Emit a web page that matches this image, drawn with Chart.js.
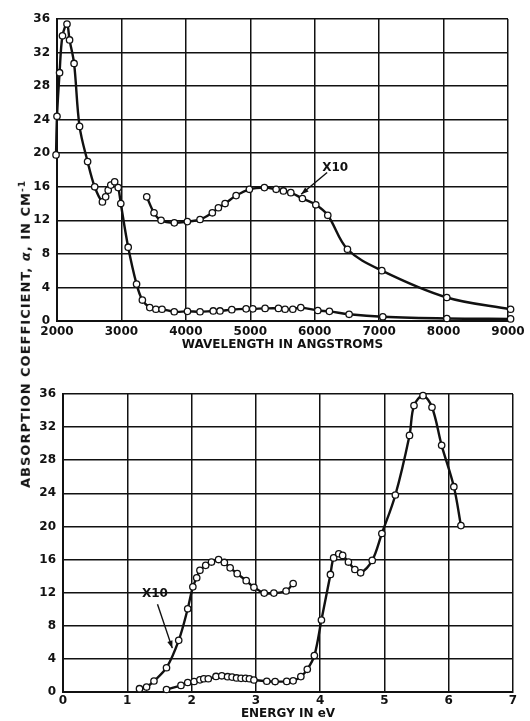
<!DOCTYPE html>
<html>
<head>
<meta charset="utf-8">
<script src="https://cdn.jsdelivr.net/npm/chart.js@4.4.1/dist/chart.umd.min.js"></script>
<style>
  body { margin: 0; background: #fff; width: 530px; height: 721px; position: relative; overflow: hidden; }
  #wrapTop { position: absolute; left: 0; top: 0; }
  #wrapBot { position: absolute; left: 0; top: 356px; }
  #yTitle {
    position: absolute; left: 25px; top: 334px;
    transform: translate(-50%, -50%) rotate(-90deg);
    white-space: nowrap; font: bold 13px "DejaVu Sans"; color: #111; letter-spacing: 1px;
  }
  #yTitle sup { font-size: 9px; }
</style>
</head>
<body>
<div id="wrapTop"><canvas id="chartTop" width="530" height="354"></canvas></div>
<div id="wrapBot"><canvas id="chartBot" width="530" height="365"></canvas></div>
<div id="yTitle">ABSORPTION COEFFICIENT, <i>α</i>, IN CM<sup>-1</sup></div>
<script>
// top panel : wavelength (angstroms)
const topWl = [1985, 2000, 2040, 2085, 2155, 2195, 2265, 2350, 2475, 2585, 2705, 2755, 2795, 2835, 2895, 2950, 2990,
  3105, 3235, 3325, 3440, 3535, 3630, 3820, 4025, 4220, 4425, 4530, 4713, 4935, 5039, 5230, 5437, 5540, 5660, 5784,
  6048, 6228, 6534, 7057, 8051, 9040];
const topAlpha = [19.8, 24.4, 29.6, 34.0, 35.4, 33.5, 30.7, 23.2, 19.0, 16.0, 14.2, 14.8, 15.6, 16.2, 16.6, 15.9, 14.0,
  8.8, 4.4, 2.5, 1.6, 1.4, 1.4, 1.1, 1.15, 1.1, 1.2, 1.2, 1.35, 1.45, 1.45, 1.5, 1.5, 1.4, 1.4, 1.6,
  1.25, 1.15, 0.8, 0.5, 0.3, 0.25];
const topWlX10 = [3393, 3506, 3615, 3821, 4023, 4220, 4411, 4505, 4609, 4780, 4986, 5219, 5401, 5514, 5629, 5809,
  6017, 6203, 6508, 7042, 8050, 9040];
const topAlphaX10 = [14.8, 12.9, 12.0, 11.7, 11.85, 12.1, 12.9, 13.5, 14.0, 14.95, 15.7, 15.9, 15.7, 15.5, 15.3, 14.6,
  13.85, 12.6, 8.55, 6.0, 2.8, 1.4];

// bottom panel : energy (eV)
const botEv = [1.61, 1.835, 1.94, 2.04, 2.13, 2.19, 2.26, 2.38, 2.47, 2.56, 2.63, 2.70, 2.77, 2.84, 2.90, 2.97,
  3.17, 3.30, 3.48, 3.58, 3.70, 3.80, 3.91, 4.02, 4.16, 4.21, 4.29, 4.35, 4.44, 4.54, 4.63, 4.81, 4.96, 5.17,
  5.39, 5.46, 5.60, 5.74, 5.89, 6.08, 6.19];
const botAlpha = [0.3, 0.8, 1.15, 1.27, 1.47, 1.6, 1.6, 1.88, 1.96, 1.85, 1.8, 1.7, 1.65, 1.65, 1.6, 1.45,
  1.3, 1.26, 1.28, 1.35, 1.86, 2.74, 4.4, 8.7, 14.2, 16.2, 16.7, 16.5, 15.7, 14.8, 14.4, 15.9, 19.15, 23.8,
  31.0, 34.6, 35.8, 34.4, 29.8, 24.8, 20.1];
const botEvX10 = [1.19, 1.30, 1.415, 1.61, 1.80, 1.94, 2.02, 2.08, 2.13, 2.22, 2.31, 2.42, 2.51, 2.60, 2.71, 2.85,
  2.97, 3.13, 3.28, 3.47, 3.58];
const botAlphaX10 = [0.4, 0.6, 1.33, 2.93, 6.24, 10.05, 12.7, 13.8, 14.7, 15.3, 15.7, 16.0, 15.65, 15.0, 14.3, 13.45,
  12.65, 11.95, 11.95, 12.2, 13.1];

const INK = '#111';
const tickFont = { family: 'DejaVu Sans', size: 12, weight: 'bold' };
const titleFont = { family: 'DejaVu Sans', size: 12, weight: 'bold' };

function toPts(xs, ys) {
  return xs.map(function(x, i) { return { x: x, y: ys[i] }; });
}

function series(xs, ys) {
  return {
    data: toPts(xs, ys),
    borderColor: INK,
    borderWidth: 2.4,
    pointRadius: 3.2,
    pointBorderWidth: 1.3,
    pointBackgroundColor: '#fff',
    pointBorderColor: INK,
    tension: 0.35,
    clip: false,
    fill: false
  };
}

// "X10" label with its arrow, placed in data units
const x10Note = {
  id: 'x10',
  afterDatasetsDraw(chart, args, opts) {
    const ctx = chart.ctx;
    const sx = chart.scales.x, sy = chart.scales.y;
    const lx = sx.getPixelForValue(opts.label[0]), ly = sy.getPixelForValue(opts.label[1]);
    const tx = sx.getPixelForValue(opts.tail[0]), ty = sy.getPixelForValue(opts.tail[1]);
    const hx = sx.getPixelForValue(opts.head[0]), hy = sy.getPixelForValue(opts.head[1]);
    ctx.save();
    ctx.fillStyle = INK;
    ctx.strokeStyle = INK;
    ctx.font = 'bold 12px "DejaVu Sans"';
    ctx.textAlign = 'center';
    ctx.textBaseline = 'middle';
    ctx.fillText('X10', lx, ly);
    ctx.lineWidth = 1.4;
    ctx.beginPath();
    ctx.moveTo(tx, ty);
    ctx.lineTo(hx, hy);
    ctx.stroke();
    const a = Math.atan2(hy - ty, hx - tx);
    ctx.beginPath();
    ctx.moveTo(hx, hy);
    ctx.lineTo(hx - 8 * Math.cos(a - 0.35), hy - 8 * Math.sin(a - 0.35));
    ctx.lineTo(hx - 8 * Math.cos(a + 0.35), hy - 8 * Math.sin(a + 0.35));
    ctx.closePath();
    ctx.fill();
    ctx.restore();
  }
};

function makeOptions(cfg) {
  return {
    responsive: false,
    animation: false,
    layout: { padding: cfg.pad },
    plugins: { legend: { display: false }, tooltip: { enabled: false }, x10: cfg.note },
    scales: {
      x: {
        type: 'linear', min: cfg.xMin, max: cfg.xMax,
        ticks: { stepSize: cfg.xStep, color: INK, font: tickFont, padding: cfg.xPad, maxRotation: 0,
          callback: function(v) { return String(v); } },
        grid: { color: INK, lineWidth: 1.5, drawTicks: false },
        border: { color: INK, width: 2 },
        title: { display: true, text: cfg.xTitle, color: INK, font: titleFont, padding: { top: 0, bottom: cfg.titlePad } },
        afterFit: function(s) { s.height = cfg.xH; }
      },
      y: {
        min: 0, max: 36,
        ticks: { stepSize: 4, color: INK, font: tickFont, padding: 7 },
        grid: { color: INK, lineWidth: 1.5, drawTicks: false },
        border: { color: INK, width: 2 },
        afterFit: function(s) { s.width = cfg.yW; }
      }
    }
  };
}

new Chart(document.getElementById('chartTop'), {
  type: 'line',
  data: { datasets: [series(topWl, topAlpha), series(topWlX10, topAlphaX10)] },
  options: makeOptions({
    xMin: 2000, xMax: 9000, xStep: 1000, xTitle: 'WAVELENGTH IN ANGSTROMS',
    pad: { left: 0, right: 22, top: 19, bottom: 0 }, xH: 33, yW: 57, xPad: 4, titlePad: 2,
    note: { label: [6317, 18.2], tail: [6193, 17.7], head: [5789, 15.1] }
  }),
  plugins: [x10Note]
});

new Chart(document.getElementById('chartBot'), {
  type: 'line',
  data: { datasets: [series(botEv, botAlpha), series(botEvX10, botAlphaX10)] },
  options: makeOptions({
    xMin: 0, xMax: 7, xStep: 1, xTitle: 'ENERGY IN eV',
    pad: { left: 0, right: 17, top: 38, bottom: 0 }, xH: 29, yW: 63, xPad: 2, titlePad: 0,
    note: { label: [1.43, 11.8], tail: [1.47, 10.6], head: [1.70, 5.3] }
  }),
  plugins: [x10Note]
});
</script>
</body>
</html>
